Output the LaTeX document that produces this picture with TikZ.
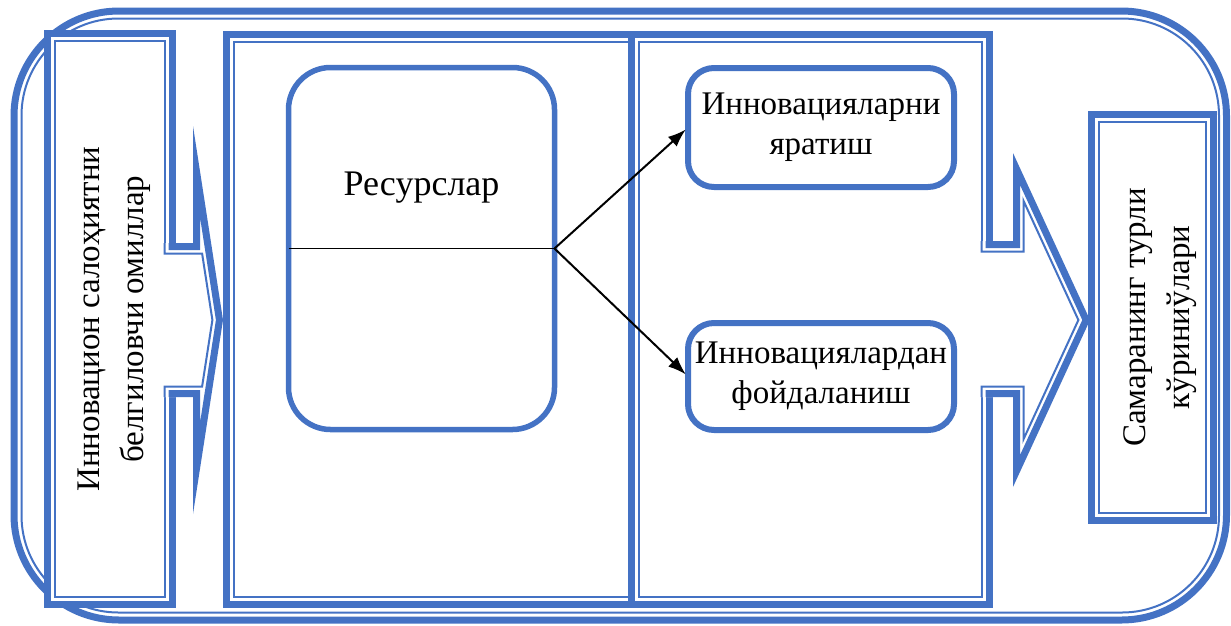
\documentclass[tikz,border=0pt]{standalone}
\usepackage{fontspec}
\setmainfont{Liberation Serif}
\usetikzlibrary{arrows.meta}
\definecolor{frameblue}{RGB}{68,114,196}
\pgfdeclarelayer{bg}
\pgfsetlayers{bg,main}
\tikzset{
    thickline/.style={draw=frameblue, line width=7pt},
    thinline/.style={draw=frameblue, line width=2pt},
    framebox/.style={rectangle, thickline, fill=white, inner sep=0pt, outer sep=0pt},
    roundbox/.style={rectangle, rounded corners=26pt, draw=frameblue, line width=6pt, fill=white,
        inner sep=0pt, outer sep=0pt, align=center, font=\fontsize{33}{40}\selectfont},
    boxtext/.style={align=center, inner sep=0pt, font=\fontsize{33}{44}\selectfont},
    link/.style={line width=2pt, shorten >=3pt, -{Latex[length=18pt,width=13pt]}}
}
\begin{document}
\begin{tikzpicture}[x=1pt, y=-1pt]
        \useasboundingbox (0,0) rectangle (1231,625);
        \begin{pgfonlayer}{bg}
                \draw[thickline, rounded corners=105pt] (14,11) rectangle (1226.5,620);
                \draw[thinline, rounded corners=97pt] (21.5,18.5) rectangle (1219,612.5);
        \end{pgfonlayer}
        % middle columns
        \draw[thickline, fill=white] (226.5,34.5) rectangle (640,604.5);
        \draw[thinline] (234,42) rectangle (632.5,597);
        \draw[thickline, fill=white] (631,34.5) rectangle (989,604.5);
        \draw[thinline] (638.5,42) rectangle (981.5,597);
        % left box
        \node (factors) [framebox, minimum width=124.5pt, minimum height=571pt] at (109.75,319) {};
        \draw[thinline] ([shift={(7.5,7.5)}]factors.north west) rectangle ([shift={(-7.5,-7.5)}]factors.south east);
        \node (factorstext) [boxtext, rotate=90] at ([xshift=4pt]factors.center) {Инновацион салоҳиятни\\белгиловчи омиллар};
        % left arrow
        \begin{scope}
                \clip (162,243) -- (193,243) -- (193,126) -- (223,320) -- (193,514) -- (193,397) -- (162,397) -- cycle;
                \fill[white] (160,120) rectangle (230,520);
                \draw[frameblue, line width=14pt] (168.5,243) -- (193,243) -- (193,126) -- (223,320) -- (193,514) -- (193,397) -- (168.5,397);
                \draw[thinline] (164.5,243) -- (164.5,253.5) -- (202.1,253.5) -- (212.4,320) -- (202.1,386.5) -- (164.5,386.5) -- (164.5,397);
        \end{scope}
        % right arrow
        \begin{scope}
                \clip (979,241) -- (1013,241) -- (1013,153) -- (1090,320) -- (1013,487) -- (1013,397) -- (979,397) -- cycle;
                \fill[white] (975,140) rectangle (1095,500);
                \draw[frameblue, line width=14pt] (985.5,241) -- (1013,241) -- (1013,153) -- (1090,320) -- (1013,487) -- (1013,397) -- (985.5,397);
                \draw[thinline] (981.5,241) -- (981.5,251.5) -- (1023.5,251.5) -- (1023.5,200.8) -- (1078.4,320) -- (1023.5,439.2) -- (1023.5,386.5) -- (981.5,386.5) -- (981.5,397);
        \end{scope}
        % right box
        \node (effect) [framebox, minimum width=122pt, minimum height=406pt] at (1152.5,317.5) {};
        \draw[thinline] ([shift={(7.5,7.5)}]effect.north west) rectangle ([shift={(-7.5,-7.5)}]effect.south east);
        \node (effecttext) [boxtext, rotate=90] at ([xshift=8pt]effect.center) {Самаранинг турли\\кўриниўлари};
        % resources and innovations
        \node (resources) [roundbox, rounded corners=42pt, line width=5.5pt, minimum width=266pt, minimum height=362pt] at (421.5,248.5) {};
        \node (restitle) [boxtext, font=\fontsize{36}{40}\selectfont, anchor=base] at (421.5,195) {Ресурслар};
        \node (create) [roundbox, minimum width=266pt, minimum height=119pt] at (821,127.5) {Инновацияларни\\яратиш};
        \node (use) [roundbox, minimum width=266pt, minimum height=107pt] at (821,376.5) {Инновациялардан\\фойдаланиш};
        \draw[line width=1.3pt] (resources.west) -- (resources.east);
        \draw[link] (resources.east) -- (create.west);
        \draw[link] (resources.east) -- (use.west);
\end{tikzpicture}
\end{document}
